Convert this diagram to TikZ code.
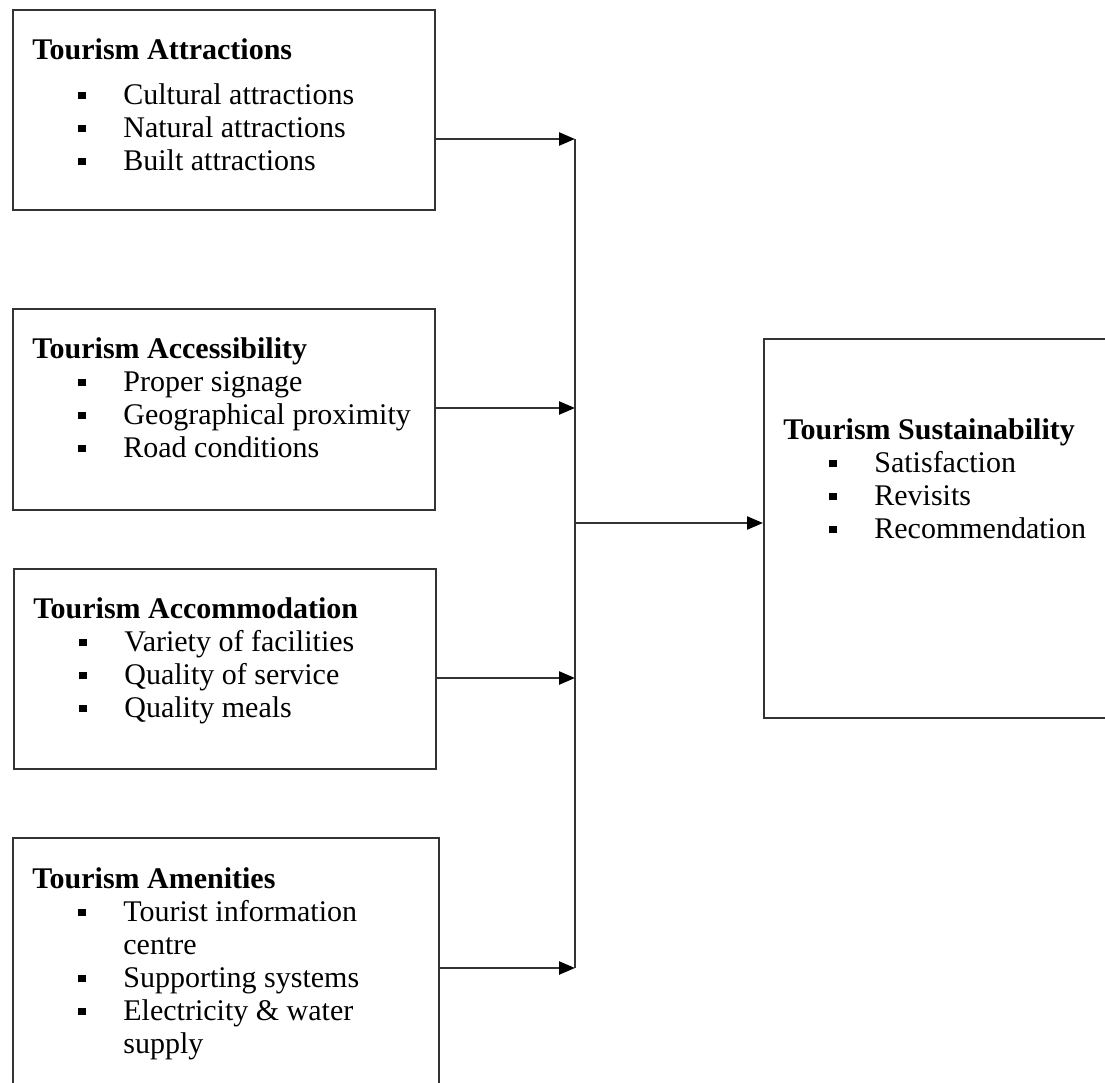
\documentclass[tikz,border=0pt]{standalone}
\usepackage{fontspec}
\setmainfont{Liberation Serif}
\usetikzlibrary{arrows.meta}

\newcommand{\bul}{\hspace*{23pt}\makebox[22.5pt][l]{\rule[2.4pt]{3.6pt}{3.6pt}}}

\begin{document}
\begin{tikzpicture}[x=0.5pt,y=-0.5pt,>={Triangle[length=8pt,width=6.5pt,color=black]}]
  \tikzstyle{box}=[draw=black!80,line width=1.1pt,anchor=north west,inner sep=0pt]
  \tikzstyle{txt}=[anchor=north west,align=left,inner sep=0pt,font=\fontsize{15}{16.5}\selectfont]
  \tikzstyle{link}=[draw=black!80,line width=1.2pt]
  \useasboundingbox (0,0) rectangle (1105,1083);
  \clip (0,0) rectangle (1105,1083);
  % factor boxes
  \node[box,minimum width=211pt,minimum height=100pt] (attr) at (12,9) {};
  \node[box,minimum width=211pt,minimum height=100.5pt] (access) at (12,308) {};
  \node[box,minimum width=211pt,minimum height=100pt] (accom) at (13,568) {};
  \node[box,minimum width=213pt,minimum height=146pt] (amen) at (12,837) {};
  \node[box,minimum width=183.5pt,minimum height=189.5pt] (sust) at (763,338) {};
  % box texts
  \node[txt] (attrtxt) at (32,38) {\textbf{Tourism Attractions}\\[6pt]
    \bul Cultural attractions\\ \bul Natural attractions\\ \bul Built attractions};
  \node[txt] (accesstxt) at (32,337) {\textbf{Tourism Accessibility}\\
    \bul Proper signage\\ \bul Geographical proximity\\ \bul Road conditions};
  \node[txt] (accomtxt) at (33,597) {\textbf{Tourism Accommodation}\\
    \bul Variety of facilities\\ \bul Quality of service\\ \bul Quality meals};
  \node[txt] (amentxt) at (32,867) {\textbf{Tourism Amenities}\\
    \bul Tourist information\\ \hspace*{45.5pt}centre\\ \bul Supporting systems\\
    \bul Electricity \& water\\ \hspace*{45.5pt}supply};
  \node[txt] (susttxt) at (783,418) {\textbf{Tourism Sustainability}\\
    \bul Satisfaction\\ \bul Revisits\\ \bul Recommendation};
  % joining line
  \coordinate (j1) at (575,139);
  \coordinate (j2) at (575,408);
  \coordinate (j3) at (575,678);
  \coordinate (j4) at (575,968);
  \coordinate (jm) at (575,523);
  \draw[link,->] (attr.east |- j1) -- (j1);
  \draw[link,->] (access.east |- j2) -- (j2);
  \draw[link,->] (accom.east |- j3) -- (j3);
  \draw[link,->] (amen.east |- j4) -- (j4);
  \draw[link] (j1) -- (j4);
  \draw[link,->] (jm) -- (sust.west |- jm);
\end{tikzpicture}
\end{document}
